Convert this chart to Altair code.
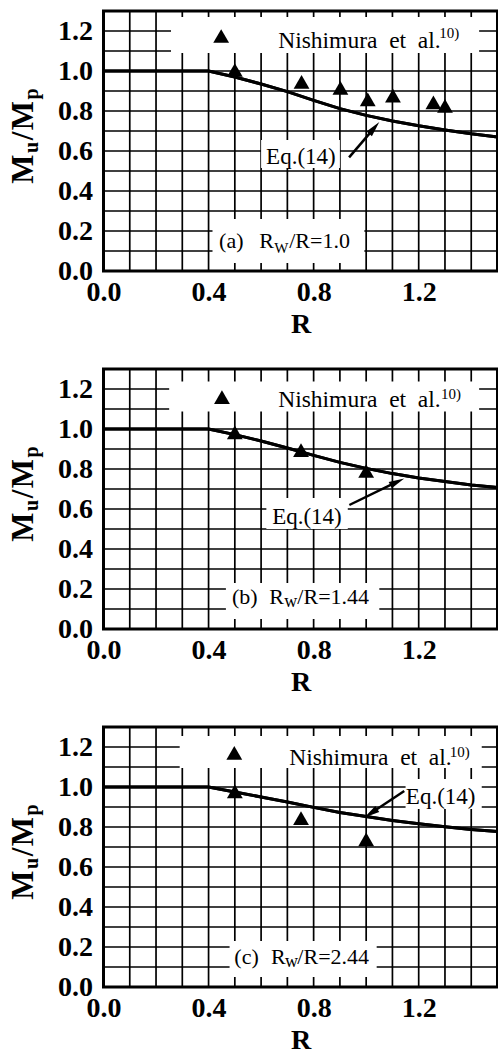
import math
import altair as alt
import pandas as pd

SERIF = "Liberation Serif"

# ---------------- data ----------------
R_CURVE = [0.0, 0.4, 0.5, 0.6, 0.7, 0.8, 0.9, 1.0, 1.1, 1.2, 1.3, 1.4, 1.5]
EQ14_A = [1.0, 1.0, 0.970, 0.935, 0.897, 0.853, 0.812, 0.778, 0.750, 0.726, 0.705, 0.686, 0.670]
EQ14_B = [1.0, 1.0, 0.972, 0.940, 0.905, 0.868, 0.833, 0.803, 0.777, 0.755, 0.737, 0.720, 0.707]
EQ14_C = [1.0, 1.0, 0.975, 0.950, 0.925, 0.898, 0.873, 0.852, 0.833, 0.816, 0.801, 0.788, 0.777]

TEST_A_R = [0.50, 0.754, 0.902, 1.006, 1.102, 1.256, 1.300]
TEST_A_M = [1.005, 0.946, 0.916, 0.858, 0.877, 0.843, 0.826]
TEST_B_R = [0.50, 0.752, 1.000]
TEST_B_M = [0.983, 0.894, 0.790]
TEST_C_R = [0.50, 0.752, 1.000]
TEST_C_M = [0.978, 0.844, 0.738]

X_GRID = [0.1, 0.2, 0.3, 0.4, 0.5, 0.6, 0.7, 0.8, 0.9, 1.0, 1.1, 1.2, 1.3, 1.4]
Y_GRID = [0.1, 0.2, 0.3, 0.4, 0.5, 0.6, 0.7, 0.8, 0.9, 1.0, 1.1, 1.2]
X_LABELS = [0.0, 0.4, 0.8, 1.2]
Y_LABELS = [0.0, 0.2, 0.4, 0.6, 0.8, 1.0, 1.2]

LEGEND_TEXT = "Nishimura\u00a0\u00a0et\u00a0\u00a0al."
LEGEND_SUP = "10)"
EQ_TEXT = "Eq.(14)"

PANELS = [
    dict(eq=EQ14_A, tr=TEST_A_R, tm=TEST_A_M,
         leg_tri=(0.448, 1.175), leg_box=(0.257, 1.43, 1.09, 1.27),
         leg_txt=(0.665, 1.1165), leg_sup=(1.278, 1.165),
         lab_box=(0.415, 0.993, 0.04, 0.26),
         lab=[("(a)", 0.44), ("R", 0.593), ("W", 0.65), ("/R=1.0", 0.707)], lab_y=0.1165,
         sub_size=15, sub_dy=0.025,
         eq_box=(0.60, 0.90, 0.515, 0.655), eq_txt=(0.619, 0.534),
         arrow=((0.935, 0.568), (1.05, 0.745))),
    dict(eq=EQ14_B, tr=TEST_B_R, tm=TEST_B_M,
         leg_tri=(0.451, 1.159), leg_box=(0.25, 1.43, 1.087, 1.237),
         leg_txt=(0.665, 1.1085), leg_sup=(1.285, 1.148),
         lab_box=(0.466, 1.05, 0.05, 0.23),
         lab=[("(b)", 0.489), ("R", 0.631), ("w", 0.688), ("/R=1.44", 0.738)], lab_y=0.125,
         sub_size=18, sub_dy=0.015,
         eq_box=(0.62, 0.93, 0.50, 0.655), eq_txt=(0.642, 0.525),
         arrow=((0.936, 0.62), (1.145, 0.753))),
    dict(eq=EQ14_C, tr=TEST_C_R, tm=TEST_C_M,
         leg_tri=(0.498, 1.171), leg_box=(0.29, 1.44, 1.095, 1.255),
         leg_txt=(0.707, 1.1085), leg_sup=(1.318, 1.148),
         lab_box=(0.48, 1.04, 0.05, 0.23),
         lab=[("(c)", 0.498), ("R", 0.638), ("w", 0.691), ("/R=2.44", 0.738)], lab_y=0.1165,
         sub_size=18, sub_dy=0.015,
         eq_box=(1.15, 1.44, 0.89, 1.04), eq_txt=(1.151, 0.9165),
         arrow=((1.145, 0.98), (0.993, 0.847))),
]

# ---------------- style ----------------
W, H = 394, 260
XMAX, YMAX = 1.5, 1.3
PXX, PXY = W / XMAX, H / YMAX


def axis(values, **kw):
    return alt.Axis(
        values=values, grid=False, ticks=False, tickSize=0, domain=False, format=".1f",
        labelFont=SERIF, labelFontSize=28, labelFontWeight="bold", labelColor="black",
        labelOverlap=False, labelFlush=False, **kw)


def panel(cfg):
    xs = alt.Scale(domain=[0, XMAX], nice=False, zero=False)
    ys = alt.Scale(domain=[0, YMAX], nice=False, zero=False)
    X = lambda f: alt.X(f, type="quantitative", scale=xs, title="R")
    Y = lambda f: alt.Y(f, type="quantitative", scale=ys, title=None)

    xaxis = axis(X_LABELS, labelPadding=7, title="R", titleFont=SERIF,
                 titleFontSize=28, titleFontWeight="bold", titleColor="black", titlePadding=4)
    yaxis = axis(Y_LABELS, labelPadding=11, title=None)

    curve_df = pd.DataFrame({"R": R_CURVE, "M": cfg["eq"]})
    base = alt.Chart(curve_df).mark_line(color="black", strokeWidth=3).encode(
        x=alt.X("R:Q", scale=xs, axis=xaxis, title="R"),
        y=alt.Y("M:Q", scale=ys, axis=yaxis, title=None))

    vgrid = alt.Chart(pd.DataFrame({"g": X_GRID})).mark_rule(color="black", strokeWidth=1.7).encode(
        x=X("g"))
    hgrid = alt.Chart(pd.DataFrame({"g": Y_GRID})).mark_rule(color="black", strokeWidth=1.7).encode(
        y=Y("g"))

    boxes = [cfg["leg_box"], cfg["lab_box"], cfg["eq_box"]]
    box_df = pd.DataFrame(boxes, columns=["x1", "x2", "y1", "y2"])
    rects = alt.Chart(box_df).mark_rect(fill="white", strokeOpacity=0).encode(
        x=X("x1"), x2="x2", y=Y("y1"), y2="y2")

    pts_df = pd.DataFrame({"R": cfg["tr"] + [cfg["leg_tri"][0]], "M": cfg["tm"] + [cfg["leg_tri"][1]]})
    pts = alt.Chart(pts_df).mark_point(shape="triangle-up", filled=True, size=250,
                                       color="black", opacity=1).encode(x=X("R"), y=Y("M"))

    def txt(items, size, weight="normal"):
        df = pd.DataFrame(items, columns=["t", "x", "y"])
        return alt.Chart(df).mark_text(font=SERIF, fontSize=size, fontWeight=weight, align="left",
                                       baseline="alphabetic", color="black").encode(
            x=X("x"), y=Y("y"), text="t:N")

    leg = txt([(LEGEND_TEXT, *cfg["leg_txt"])], 23.5)
    sup = txt([(LEGEND_SUP, *cfg["leg_sup"])], 15)
    lab_main = [(t, x, cfg["lab_y"]) for i, (t, x) in enumerate(cfg["lab"]) if i != 2]
    lab_sub = [(cfg["lab"][2][0], cfg["lab"][2][1], cfg["lab_y"] - cfg["sub_dy"])]
    lab1 = txt(lab_main, 22)
    lab2 = txt(lab_sub, cfg["sub_size"])
    eq = txt([(EQ_TEXT, *cfg["eq_txt"])], 23)

    (tx, ty), (hx, hy) = cfg["arrow"]
    ex, ey = tx + 0.8 * (hx - tx), ty + 0.8 * (hy - ty)
    rule_df = pd.DataFrame({"x1": [tx], "y1": [ty], "x2": [ex], "y2": [ey]})
    shaft = alt.Chart(rule_df).mark_rule(color="black", strokeWidth=2.5).encode(
        x=X("x1"), y=Y("y1"), x2="x2", y2="y2")
    dxp, dyp = (hx - tx) * PXX, -(hy - ty) * PXY
    ang = math.degrees(math.atan2(dxp, -dyp)) % 360
    head_df = pd.DataFrame({"x": [hx], "y": [hy], "a": [ang]})
    head = alt.Chart(head_df).mark_point(shape="M0,0L0.5,2.2L-0.5,2.2Z", filled=True, size=200,
                                         color="black", opacity=1).encode(
        x=X("x"), y=Y("y"), angle=alt.Angle("a:Q", scale=None))

    # rotated y title  M_u / M_p
    glyphs = [("M", 31, 0.944, 0), ("u", 20, 0.556, 5), ("/", 31, 0.278, 0),
              ("M", 31, 0.944, 0), ("p", 20, 0.556, 5)]
    total = sum(s * w for _, s, w, _ in glyphs) + 6
    ypos = H / 2 + total / 2 - 5
    title_layers = []
    for g, s, w, off in glyphs:
        gw = s * w + 1.5
        title_layers.append(
            alt.Chart(pd.DataFrame({"k": [0]})).mark_text(
                text=g, font=SERIF, fontSize=s, fontWeight="bold", angle=270,
                align="left", baseline="alphabetic", color="black").encode(
                x=alt.value(-71 + off), y=alt.value(ypos)))
        ypos -= gw

    return alt.layer(base, vgrid, hgrid, rects, base, pts, leg, sup, lab1, lab2, eq, shaft, head,
                     *title_layers).properties(width=W, height=H)


chart = alt.vconcat(*[panel(c) for c in PANELS], spacing=26).properties(
    padding={"left": 5.5, "top": 8, "right": -8, "bottom": 0}, background="white"
).configure_view(stroke="black", strokeWidth=3)

chart.save("out.html", embed_options={"renderer": "svg", "actions": False})
